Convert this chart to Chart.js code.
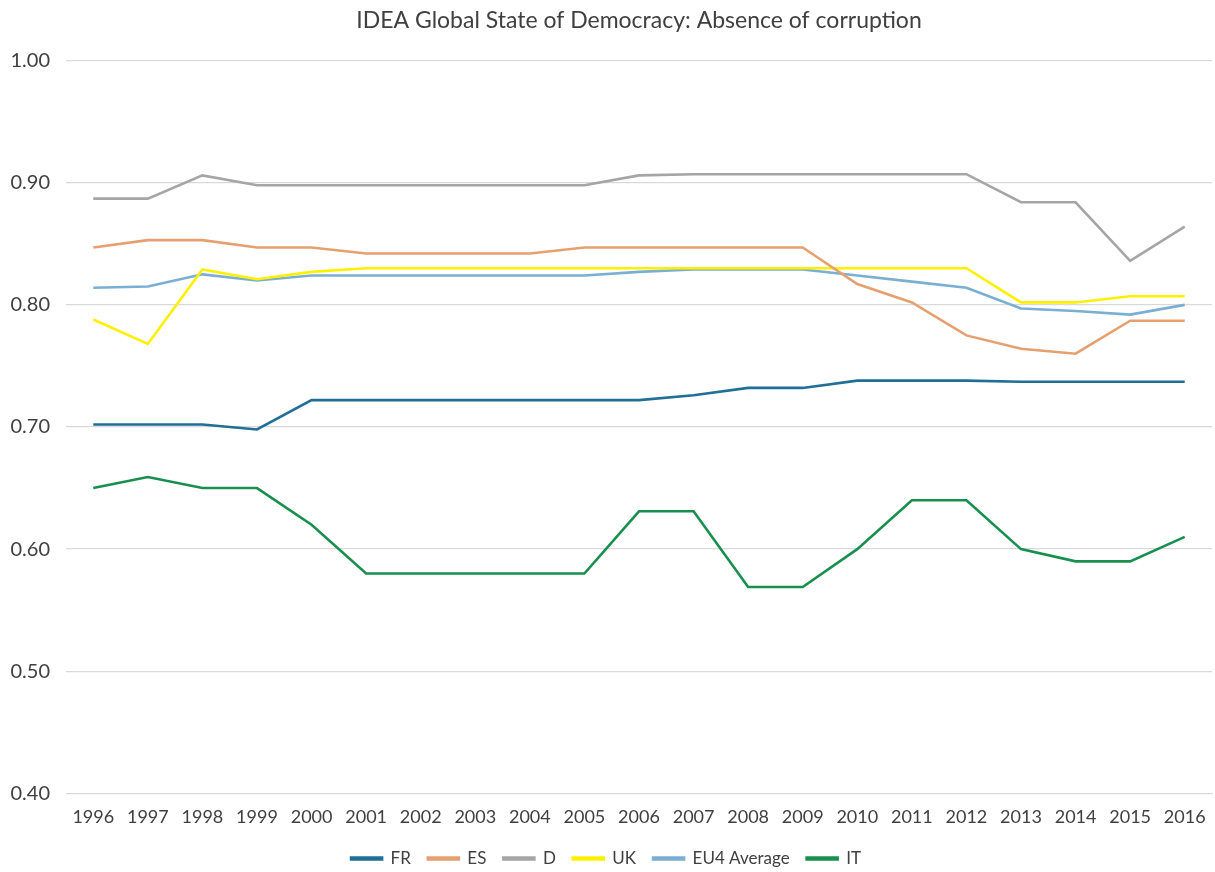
<!DOCTYPE html>
<html>
<head>
<meta charset="utf-8">
<script src="https://cdn.jsdelivr.net/npm/chart.js@4/dist/chart.umd.min.js"></script>
<style>
    html, body { margin: 0; padding: 0; background: #fff; }
    #wrap { width: 1215px; height: 872px; position: relative; }
</style>
</head>
<body>
<div id="wrap"><canvas id="corruptionChart"></canvas></div>
<script>
const years = ['1996', '1997', '1998', '1999', '2000', '2001', '2002', '2003', '2004', '2005', '2006',
    '2007', '2008', '2009', '2010', '2011', '2012', '2013', '2014', '2015', '2016'];

const frValues = [0.702, 0.702, 0.702, 0.698, 0.722, 0.722, 0.722, 0.722, 0.722, 0.722, 0.722,
    0.726, 0.732, 0.732, 0.738, 0.738, 0.738, 0.737, 0.737, 0.737, 0.737];
const esValues = [0.847, 0.853, 0.853, 0.847, 0.847, 0.842, 0.842, 0.842, 0.842, 0.847, 0.847,
    0.847, 0.847, 0.847, 0.817, 0.802, 0.775, 0.764, 0.760, 0.787, 0.787];
const dValues = [0.887, 0.887, 0.906, 0.898, 0.898, 0.898, 0.898, 0.898, 0.898, 0.898, 0.906,
    0.907, 0.907, 0.907, 0.907, 0.907, 0.907, 0.884, 0.884, 0.836, 0.864];
const ukValues = [0.788, 0.768, 0.829, 0.821, 0.827, 0.830, 0.830, 0.830, 0.830, 0.830, 0.830,
    0.830, 0.830, 0.830, 0.830, 0.830, 0.830, 0.802, 0.802, 0.807, 0.807];
const eu4Values = [0.814, 0.815, 0.825, 0.820, 0.824, 0.824, 0.824, 0.824, 0.824, 0.824, 0.827,
    0.829, 0.829, 0.829, 0.824, 0.819, 0.814, 0.797, 0.795, 0.792, 0.800];
const itValues = [0.650, 0.659, 0.650, 0.650, 0.620, 0.580, 0.580, 0.580, 0.580, 0.580, 0.631,
    0.631, 0.569, 0.569, 0.600, 0.640, 0.640, 0.600, 0.590, 0.590, 0.610];

const yTicks = [0.4, 0.5, 0.6, 0.7, 0.8, 0.9, 1.0];

function series(label, data, color) {
    return {
        label: label,
        data: data,
        borderColor: color,
        backgroundColor: color,
        borderWidth: 2.6,
        pointRadius: 0,
        pointHoverRadius: 0,
        tension: 0
    };
}

const textColor = '#404040';
const fontFamily = 'Lato, "Noto Sans", sans-serif';

// keep the legend band short, and centre the title over the plot like the original
const layoutTweaks = {
    id: 'layoutTweaks',
    beforeInit(chart) {
        const fit = chart.legend.fit;
        chart.legend.fit = function () {
            fit.call(this);
            this.height = 35;
        };
    },
    afterLayout(chart) {
        chart.titleBlock.left += 66;
    }
};

new Chart(document.getElementById('corruptionChart'), {
    type: 'line',
    data: {
        labels: years,
        datasets: [
            series('FR', frValues, '#1f6f96'),
            series('ES', esValues, '#e6a06f'),
            series('D', dValues, '#a5a5a5'),
            series('UK', ukValues, '#fff000'),
            series('EU4 Average', eu4Values, '#7aafd4'),
            series('IT', itValues, '#188f4e')
        ]
    },
    plugins: [layoutTweaks],
    options: {
        responsive: true,
        maintainAspectRatio: false,
        animation: false,
        layout: {
            padding: { left: 0, right: 3, top: 0, bottom: 4 }
        },
        plugins: {
            title: {
                display: true,
                text: 'IDEA Global State of Democracy: Absence of corruption',
                color: textColor,
                font: { family: fontFamily, size: 23, weight: 'normal' },
                padding: { top: 7, bottom: 26 }
            },
            legend: {
                position: 'bottom',
                labels: {
                    color: textColor,
                    font: { family: fontFamily, size: 17 },
                    boxWidth: 31,
                    boxHeight: 2,
                    padding: 17
                }
            },
            tooltip: { enabled: false }
        },
        scales: {
            x: {
                offset: true,
                grid: { display: false },
                border: { color: '#d9d9d9' },
                ticks: {
                    color: textColor,
                    font: { family: fontFamily, size: 18 },
                    padding: 5,
                    maxRotation: 0,
                    autoSkip: false
                }
            },
            y: {
                min: 0.4,
                max: 1.0,
                afterBuildTicks: function (axis) {
                    axis.ticks = yTicks.map(v => ({ value: v }));
                },
                afterFit: function (axis) {
                    axis.width = 66;
                },
                grid: { color: '#d9d9d9', lineWidth: 1.3, drawTicks: false },
                border: { display: false },
                ticks: {
                    color: textColor,
                    font: { family: fontFamily, size: 20 },
                    padding: 16,
                    callback: v => v.toFixed(2)
                }
            }
        }
    }
});
</script>
</body>
</html>
